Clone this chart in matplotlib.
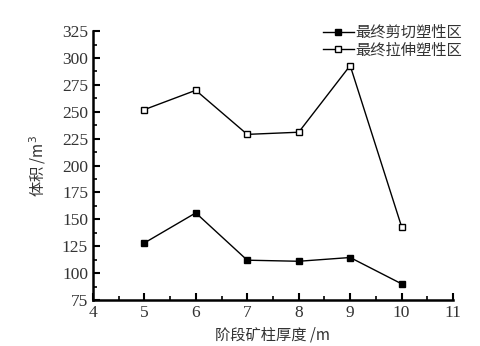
import matplotlib
matplotlib.use("Agg")
import matplotlib.pyplot as plt
from matplotlib.ticker import MultipleLocator

thickness = [5, 6, 7, 8, 9, 10]
shear = [128, 156, 112, 111, 114.5, 90]
tensile = [252, 270, 229, 231, 293, 143]
labels = ["最终剪切塑性区", "最终拉伸塑性区"]

plt.rcParams['font.family'] = ['Liberation Serif', 'Noto Sans CJK SC']
plt.rcParams['font.size'] = 11

fig = plt.figure(figsize=(4.81, 3.46), dpi=100)
ax = fig.add_axes([0.193, 0.133, 0.749, 0.777])
ax.plot(thickness, shear, color='black', lw=1, marker='s', ms=4.5,
        mfc='black', mec='black', label=labels[0])
ax.plot(thickness, tensile, color='black', lw=1, marker='s', ms=4.5,
        mfc='white', mec='black', mew=1, label=labels[1])
ax.set_xlim(4, 11)
ax.set_ylim(75, 325)
ax.xaxis.set_major_locator(MultipleLocator(1))
ax.xaxis.set_minor_locator(MultipleLocator(0.5))
ax.yaxis.set_major_locator(MultipleLocator(25))
ax.yaxis.set_minor_locator(MultipleLocator(12.5))
for s in ['top', 'right']:
    ax.spines[s].set_visible(False)
for s in ['left', 'bottom']:
    ax.spines[s].set_linewidth(1.8)
ax.tick_params(which='major', direction='in', length=5, width=1.5, labelsize=12.5,
               labelcolor='#333333')
ax.tick_params(which='minor', direction='in', length=3, width=1.2)
ax.set_xlabel("阶段矿柱厚度 /m", family=['Noto Sans CJK SC', 'Liberation Serif'],
              fontsize=11, labelpad=4, color='#333333')
ax.set_ylabel("体积 /m$^3$", family=['Noto Sans CJK SC', 'Liberation Serif'],
              fontsize=11, labelpad=10, color='#333333')
leg = ax.legend(loc='upper right', bbox_to_anchor=(462 / 481, 1 - 24 / 346),
                bbox_transform=fig.transFigure, frameon=False,
                prop={'family': ['Noto Sans CJK SC'], 'size': 11},
                handlelength=2.0, handletextpad=0.1, labelspacing=0.05,
                borderpad=0, borderaxespad=0)
for t in leg.get_texts():
    t.set_color('#333333')
fig.savefig("out.png", dpi=100)
